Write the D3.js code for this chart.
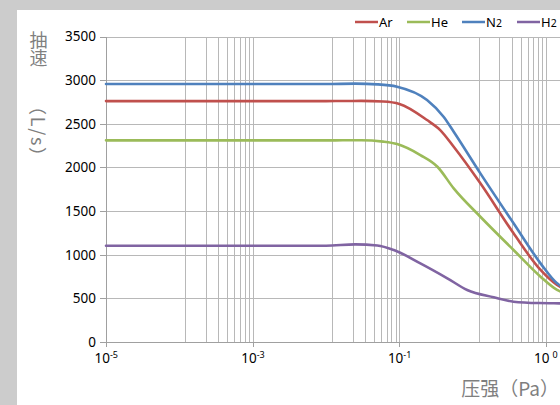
<!DOCTYPE html>
<html><head><meta charset="utf-8">
<script src="https://cdn.jsdelivr.net/npm/d3@7"></script>
<style>
html,body{margin:0;padding:0;background:#cccccc;}
svg{display:block;}
</style></head>
<body>
<svg id="c" width="560" height="405"></svg>
<script>
// ---- data ----
const seriesNames = ["Ar", "He", "N2", "H2"];
const pressureAr = [1e-5, 1e-3, 0.01, 0.03, 0.06, 0.1, 0.238, 0.36, 0.55, 1.27, 3.6, 8.4, 14.1, 20];
const speedAr    = [2760, 2760, 2760, 2762, 2755, 2728, 2543, 2428, 2237, 1818, 1245, 825, 653, 590];
const pressureHe = [1e-5, 1e-3, 0.01, 0.03, 0.06, 0.093, 0.193, 0.33, 0.55, 1.27, 3.6, 8.4, 14.1, 20];
const speedHe    = [2310, 2310, 2310, 2312, 2296, 2268, 2142, 2008, 1760, 1435, 1054, 748, 596, 545];
const pressureN2 = [1e-5, 1e-3, 0.01, 0.025, 0.05, 0.093, 0.238, 0.40, 0.55, 1.27, 3.6, 8.4, 14.1, 20];
const speedN2    = [2955, 2955, 2955, 2960, 2952, 2925, 2772, 2581, 2409, 1932, 1360, 901, 672, 600];
const pressureH2 = [1e-5, 1e-3, 0.01, 0.025, 0.05, 0.084, 0.193, 0.45, 0.84, 1.93, 3.6, 8, 15, 20];
const speedH2    = [1103, 1103, 1103, 1118, 1106, 1054, 901, 730, 596, 512, 462, 446, 443, 442];
const yTicks = [0, 500, 1000, 1500, 2000, 2500, 3000, 3500];
const xMajorTicks = [1e-5, 1e-3, 1e-1, 1e1];
const xTickBase = ["10", "10", "10", "10"];
const xTickExp  = ["-5", "-3", "-1", "0"];
const colors = ["#C0504D", "#9BBB59", "#4F81BD", "#8064A2"];
const yTitleCJK = "抽速";
const yTitleUnit = "（L/s）";
const xTitle = "压强（Pa）";

const series = [
  {name: seriesNames[0], p: pressureAr, v: speedAr, c: colors[0]},
  {name: seriesNames[1], p: pressureHe, v: speedHe, c: colors[1]},
  {name: seriesNames[2], p: pressureN2, v: speedN2, c: colors[2]},
  {name: seriesNames[3], p: pressureH2, v: speedH2, c: colors[3]}
];

const svg = d3.select("#c");
const font = "'Noto Sans', 'Noto Sans CJK SC', sans-serif";
const cjk = "'Noto Sans CJK SC', 'Noto Sans', sans-serif";
// white panel
svg.append("rect").attr("x", 17).attr("y", 10).attr("width", 600).attr("height", 420).attr("fill", "#ffffff");

const pLeft = 106, pTop = 36.5, pBottom = 342;
const x = d3.scaleLog().domain([1e-5, 1e3]).range([pLeft, pLeft + 4 * 146.7]);
const y = d3.scaleLinear().domain([0, 3500]).range([pBottom, pTop]);

const grid = svg.append("g").attr("stroke", "#b8b8b8").attr("stroke-width", 1).attr("shape-rendering", "crispEdges");
// minor x gridlines (log base-100 style minors)
const minors = [];
xMajorTicks.concat([1e3]).forEach(m => { for (let k = 1; k <= 8; k++) { const v = m * (1 + 11 * k); if (v < 1e3) minors.push(v); } });
grid.selectAll(".mx").data(minors).join("line")
  .attr("x1", d => Math.round(x(d)) + 0.5).attr("x2", d => Math.round(x(d)) + 0.5)
  .attr("y1", pTop).attr("y2", pBottom);
grid.selectAll(".Mx").data(xMajorTicks.slice(1)).join("line")
  .attr("x1", d => Math.round(x(d)) + 0.5).attr("x2", d => Math.round(x(d)) + 0.5)
  .attr("y1", pTop).attr("y2", pBottom);
grid.selectAll(".gy").data(yTicks.slice(1)).join("line")
  .attr("x1", pLeft).attr("x2", 700)
  .attr("y1", d => Math.round(y(d)) + 0.5).attr("y2", d => Math.round(y(d)) + 0.5);

// axes
const axisG = svg.append("g").attr("stroke", "#a0a0a0").attr("shape-rendering", "crispEdges");
axisG.append("line").attr("x1", pLeft + 0.5).attr("x2", pLeft + 0.5).attr("y1", pTop).attr("y2", pBottom + 0.5);
axisG.append("line").attr("x1", pLeft).attr("x2", 700).attr("y1", pBottom + 0.5).attr("y2", pBottom + 0.5);
axisG.selectAll(".ty").data(yTicks).join("line")
  .attr("x1", pLeft - 6).attr("x2", pLeft)
  .attr("y1", d => Math.round(y(d)) + 0.5).attr("y2", d => Math.round(y(d)) + 0.5);
axisG.selectAll(".tx").data(xMajorTicks).join("line")
  .attr("x1", d => Math.round(x(d)) + 0.5).attr("x2", d => Math.round(x(d)) + 0.5)
  .attr("y1", pBottom).attr("y2", pBottom + 5);

// y tick labels
svg.selectAll(".yl").data(yTicks).join("text")
  .attr("x", 96).attr("y", d => y(d)).attr("dy", "0.36em")
  .attr("text-anchor", "end").attr("font-family", font).attr("font-size", 13.5)
  .attr("fill", "#000").text(d => d);

// x tick labels
const xl = svg.selectAll(".xl").data(xMajorTicks).join("text")
  .attr("x", (d, i) => x(d) - (i === 3 ? 12 : 11.5)).attr("y", 363)
  .attr("font-family", font).attr("font-size", 13.5).attr("fill", "#000");
xl.append("tspan").text((d, i) => xTickBase[i]);
xl.append("tspan").attr("dy", -5).attr("dx", (d, i) => i === 3 ? 3 : 0).attr("font-size", 9).text((d, i) => xTickExp[i]);

// lines
const line = d3.line().x(d => x(d[0])).y(d => y(d[1])).curve(d3.curveMonotoneX);
svg.append("g").selectAll("path").data(series).join("path")
  .attr("d", s => line(s.p.map((p, i) => [p, s.v[i]])))
  .attr("fill", "none").attr("stroke", s => s.c).attr("stroke-width", 2.6)
  .attr("stroke-linejoin", "round").attr("stroke-linecap", "round");

// legend
const legX = [355, 407, 462, 517];
const lg = svg.append("g").selectAll("g").data(series).join("g")
  .attr("transform", (s, i) => `translate(${legX[i]},22)`);
lg.append("line").attr("x1", 0).attr("x2", 23).attr("y1", 0).attr("y2", 0)
  .attr("stroke", s => s.c).attr("stroke-width", 2.5);
const lt = lg.append("text").attr("x", 24).attr("y", 4.5).attr("font-family", font).attr("font-size", 13)
  .attr("fill", "#000");
lt.append("tspan").text(s => s.name.replace(/2$/, ""));
lt.append("tspan").attr("font-size", 10.5).text(s => /2$/.test(s.name) ? "2" : "");

// axis titles
svg.append("text").attr("x", 559).attr("y", 396).attr("text-anchor", "end")
  .attr("font-family", cjk).attr("font-size", 19).attr("fill", "#7f7f7f").text(xTitle);
svg.append("text").attr("x", 38.5).attr("y", 31)
  .attr("style", "writing-mode: vertical-rl; text-orientation: mixed;")
  .attr("font-family", cjk).attr("font-size", 18).attr("fill", "#7f7f7f").text(yTitleCJK);
svg.append("text").attr("transform", "translate(38.5,97) rotate(90)")
  .attr("dominant-baseline", "central")
  .attr("textLength", 68).attr("lengthAdjust", "spacing")
  .attr("font-family", cjk).attr("font-size", 18).attr("fill", "#7f7f7f").text(yTitleUnit);
</script>
</body></html>
